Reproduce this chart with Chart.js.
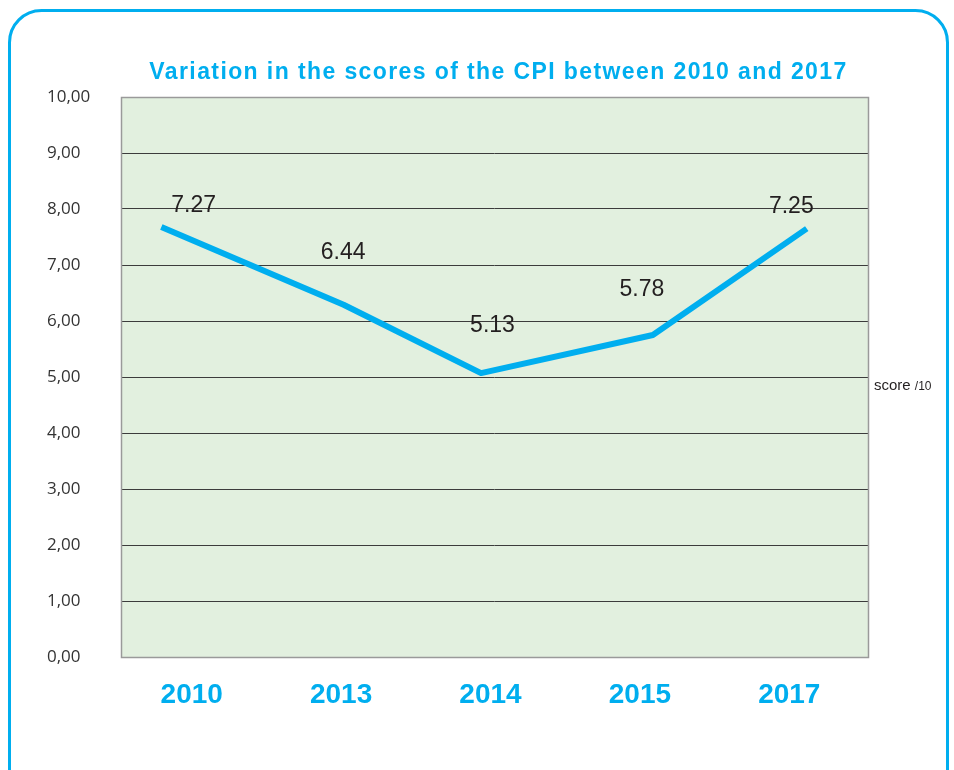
<!DOCTYPE html>
<html>
<head>
<meta charset="utf-8">
<script src="https://cdn.jsdelivr.net/npm/chart.js@4/dist/chart.umd.min.js"></script>
<style>
  html, body { margin: 0; padding: 0; background: #fff; }
  #wrap { width: 954px; height: 770px; }
</style>
</head>
<body>
<div id="wrap"><canvas id="cpiChart" width="954" height="770"></canvas></div>
<script>
// categories and the printed scores
const years = ['2010', '2013', '2014', '2015', '2017'];
const scoreLabels = [7.27, 6.44, 5.13, 5.78, 7.25];
// where the blue line is actually drawn in the original (x in category units, y in score)
const lineX = [-0.23, 0.99, 1.91, 3.06, 4.09];
const lineY = [7.68, 6.29, 5.07, 5.75, 7.65];
const yMin = 0, yMax = 10, yStep = 1;

const cyan = '#00AEEF';
const textDark = '#231F20';

const backdrop = {
  id: 'backdrop',
  beforeDraw(chart) {
    const ctx = chart.ctx;
    const a = chart.chartArea;
    ctx.save();
    ctx.fillStyle = '#fff';
    ctx.fillRect(0, 0, chart.width, chart.height);
    // rounded frame
    ctx.strokeStyle = cyan;
    ctx.lineWidth = 3;
    ctx.beginPath();
    ctx.roundRect(9.5, 10.5, 938, 800, 32);
    ctx.stroke();
    // plot background
    ctx.fillStyle = '#E2F0DF';
    ctx.fillRect(a.left, a.top, a.right - a.left, a.bottom - a.top);
    // title
    ctx.fillStyle = cyan;
    ctx.font = 'bold 23px "Liberation Sans", Arial, sans-serif';
    ctx.letterSpacing = '1.4px';
    ctx.textAlign = 'center';
    ctx.textBaseline = 'middle';
    ctx.fillText('Variation in the scores of the CPI between 2010 and 2017', (a.left + a.right) / 2 + 4, 73);
    ctx.restore();
  },
  beforeDatasetsDraw(chart) {
    const ctx = chart.ctx;
    const a = chart.chartArea;
    ctx.save();
    ctx.strokeStyle = '#9a9a9a';
    ctx.lineWidth = 1.5;
    ctx.strokeRect(a.left + 0.5, a.top + 0.5, a.right - a.left, a.bottom - a.top);
    ctx.restore();
  }
};

const valueLabels = {
  id: 'valueLabels',
  afterDatasetsDraw(chart) {
    const ctx = chart.ctx;
    const xs = chart.scales.x, ys = chart.scales.y;
    ctx.save();
    ctx.fillStyle = textDark;
    ctx.font = '23px "Liberation Sans", Arial, sans-serif';
    ctx.textAlign = 'center';
    ctx.textBaseline = 'middle';
    scoreLabels.forEach((v, i) => {
      ctx.fillText(v.toFixed(2), xs.getPixelForValue(i) - 2, ys.getPixelForValue(v) - 44);
    });
    // unit note on the right
    const a = chart.chartArea;
    const y5 = ys.getPixelForValue(5) + 9;
    ctx.textAlign = 'left';
    ctx.font = '15px "Liberation Sans", Arial, sans-serif';
    ctx.fillText('score', a.right + 6, y5);
    const w = ctx.measureText('score ').width;
    ctx.font = '12px "Liberation Sans", Arial, sans-serif';
    ctx.fillText('/10', a.right + 6 + w, y5 + 1);
    ctx.restore();
  }
};

new Chart(document.getElementById('cpiChart'), {
  type: 'line',
  data: {
    datasets: [{
      data: lineX.map((x, i) => ({ x, y: lineY[i] })),
      borderColor: cyan,
      borderWidth: 6,
      borderJoinStyle: 'round',
      pointRadius: 0,
      tension: 0,
      fill: false
    }]
  },
  options: {
    responsive: false,
    animation: false,
    layout: { padding: { left: 47, right: 86, top: 97, bottom: 0 } },
    plugins: {
      legend: { display: false },
      tooltip: { enabled: false },
      title: { display: false }
    },
    scales: {
      x: {
        type: 'linear',
        min: -0.5,
        max: 4.5,
        afterBuildTicks: scale => {
          scale.ticks = years.map((y, i) => ({ value: i }));
        },
        afterFit: scale => { scale.height = 113; },
        grid: { display: false, drawTicks: false },
        border: { display: false },
        ticks: {
          autoSkip: false,
          padding: 21,
          labelOffset: -4,
          color: cyan,
          font: { family: '"Liberation Sans", Arial, sans-serif', size: 28, weight: 'bold' },
          callback: v => years[v]
        }
      },
      y: {
        min: yMin,
        max: yMax,
        afterFit: scale => { scale.width = 74; },
        grid: {
          drawTicks: false,
          color: c => (c.tick.value === yMin || c.tick.value === yMax) ? 'rgba(0,0,0,0)' : '#3c3c3c',
          lineWidth: 1
        },
        border: { display: false },
        ticks: {
          stepSize: yStep,
          crossAlign: 'far',
          padding: 0,
          color: '#333',
          font: { family: '"Open Sans", "Noto Sans", sans-serif', size: 17 },
          callback: v => v.toFixed(2).replace('.', ',')
        }
      }
    }
  },
  plugins: [backdrop, valueLabels]
});
</script>
</body>
</html>
